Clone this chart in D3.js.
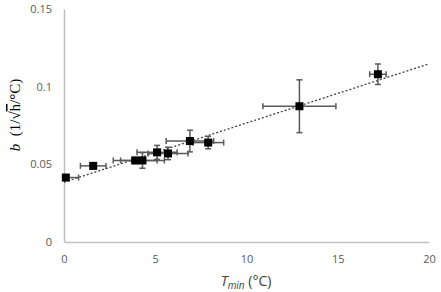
<!DOCTYPE html>
<html>
<head>
<meta charset="utf-8">
<script src="https://cdn.jsdelivr.net/npm/d3@7"></script>
<style>
  body { margin: 0; background: #fff; }
  .tick text { fill: #595959; font-family: "Open Sans", "Liberation Sans", sans-serif; font-size: 11px; }
</style>
</head>
<body>
<svg id="chart" width="441" height="292"></svg>
<script>
// data
const tmin = [0.1, 1.6, 3.9, 4.3, 5.1, 5.7, 6.9, 7.9, 12.9, 17.2];
const bVal = [0.0415, 0.049, 0.0525, 0.0525, 0.0577, 0.057, 0.065, 0.064, 0.0874, 0.108];
const tErr = [0.7, 0.7, 1.2, 1.2, 1.1, 1.1, 1.3, 0.85, 2.0, 0.45];
const bErr = [0.001, 0.001, 0.002, 0.005, 0.0045, 0.004, 0.007, 0.004, 0.017, 0.0066];
const trendT = [0, 20];
const trendB = [0.0385, 0.1147];
const xTicks = [0, 5, 10, 15, 20];
const yTicks = [0, 0.05, 0.1, 0.15];

const svg = d3.select("#chart");
const margin = { left: 64, right: 12, top: 9, bottom: 50 };
const width = +svg.attr("width");
const height = +svg.attr("height");

const x = d3.scaleLinear().domain([0, 20]).range([margin.left, width - margin.right]);
const y = d3.scaleLinear().domain([0, 0.15]).range([height - margin.bottom, margin.top]);

// axes
const xAxis = svg.append("g")
    .attr("transform", `translate(0,${y(0)})`)
    .call(d3.axisBottom(x).tickValues(xTicks).tickSize(0).tickPadding(13).tickFormat(d3.format("d")));
xAxis.select(".domain").attr("stroke", "#bfbfbf").attr("stroke-width", 1.5);

const yAxis = svg.append("g")
    .attr("transform", `translate(${x(0)},0)`)
    .call(d3.axisLeft(y).tickValues(yTicks).tickSize(0).tickPadding(12).tickFormat(d => d === 0 ? "0" : d3.format("")(d)));
yAxis.select(".domain").attr("stroke", "#bfbfbf").attr("stroke-width", 1.5);

// clip to the plot area
svg.append("clipPath").attr("id", "plotclip")
  .append("rect")
    .attr("x", x(0)).attr("y", y(0.15))
    .attr("width", x(20) - x(0)).attr("height", y(0) - y(0.15));

const g = svg.append("g").attr("clip-path", "url(#plotclip)");

// trend line
g.append("line")
    .attr("x1", x(trendT[0])).attr("y1", y(trendB[0]))
    .attr("x2", x(trendT[1])).attr("y2", y(trendB[1]))
    .attr("stroke", "#404040")
    .attr("stroke-width", 1.3)
    .attr("stroke-dasharray", "2,2");

const pts = tmin.map((t, i) => ({ t: t, b: bVal[i], te: tErr[i], be: bErr[i] }));
const cap = 3;
const errColor = "#595959";

// horizontal error bars
const hBars = g.selectAll("g.xerr").data(pts).enter().append("g").attr("class", "xerr");
hBars.append("line")
    .attr("x1", d => x(d.t - d.te)).attr("x2", d => x(d.t + d.te))
    .attr("y1", d => y(d.b)).attr("y2", d => y(d.b));
hBars.append("line")
    .attr("x1", d => x(d.t - d.te)).attr("x2", d => x(d.t - d.te))
    .attr("y1", d => y(d.b) - cap).attr("y2", d => y(d.b) + cap);
hBars.append("line")
    .attr("x1", d => x(d.t + d.te)).attr("x2", d => x(d.t + d.te))
    .attr("y1", d => y(d.b) - cap).attr("y2", d => y(d.b) + cap);
hBars.selectAll("line").attr("stroke", errColor).attr("stroke-width", 1.5);

// vertical error bars
const vBars = g.selectAll("g.yerr").data(pts).enter().append("g").attr("class", "yerr");
vBars.append("line")
    .attr("x1", d => x(d.t)).attr("x2", d => x(d.t))
    .attr("y1", d => y(d.b - d.be)).attr("y2", d => y(d.b + d.be));
vBars.append("line")
    .attr("x1", d => x(d.t) - cap).attr("x2", d => x(d.t) + cap)
    .attr("y1", d => y(d.b - d.be)).attr("y2", d => y(d.b - d.be));
vBars.append("line")
    .attr("x1", d => x(d.t) - cap).attr("x2", d => x(d.t) + cap)
    .attr("y1", d => y(d.b + d.be)).attr("y2", d => y(d.b + d.be));
vBars.selectAll("line").attr("stroke", errColor).attr("stroke-width", 1.5);

// markers
const sq = 8;
svg.selectAll("rect.pt").data(pts).enter().append("rect")
    .attr("class", "pt")
    .attr("x", d => x(d.t) - sq / 2)
    .attr("y", d => y(d.b) - sq / 2)
    .attr("width", sq).attr("height", sq)
    .attr("fill", "#000");

// x axis title
const xt = svg.append("text")
    .attr("x", 246).attr("y", 286)
    .attr("text-anchor", "middle")
    .attr("fill", "#404040")
    .attr("font-family", "'Open Sans', 'Liberation Sans', sans-serif")
    .attr("font-size", 14);
xt.append("tspan").attr("font-style", "italic").text("T");
xt.append("tspan").attr("font-style", "italic").attr("font-size", 10).attr("dy", 3).text("min");
xt.append("tspan").attr("dy", -3).text(" (°C)");

// y axis title
const yt = svg.append("text")
    .attr("transform", "translate(20,115) rotate(-90)")
    .attr("text-anchor", "middle")
    .attr("fill", "#000")
    .attr("font-family", "'Liberation Serif', 'DejaVu Serif', serif")
    .attr("font-size", 15);
yt.append("tspan").attr("font-style", "italic").text("b");
yt.append("tspan").text("\u00a0\u00a0(1/√");
yt.append("tspan").attr("text-decoration", "overline").text("h");
yt.append("tspan").text("/°C)");
</script>
</body>
</html>
